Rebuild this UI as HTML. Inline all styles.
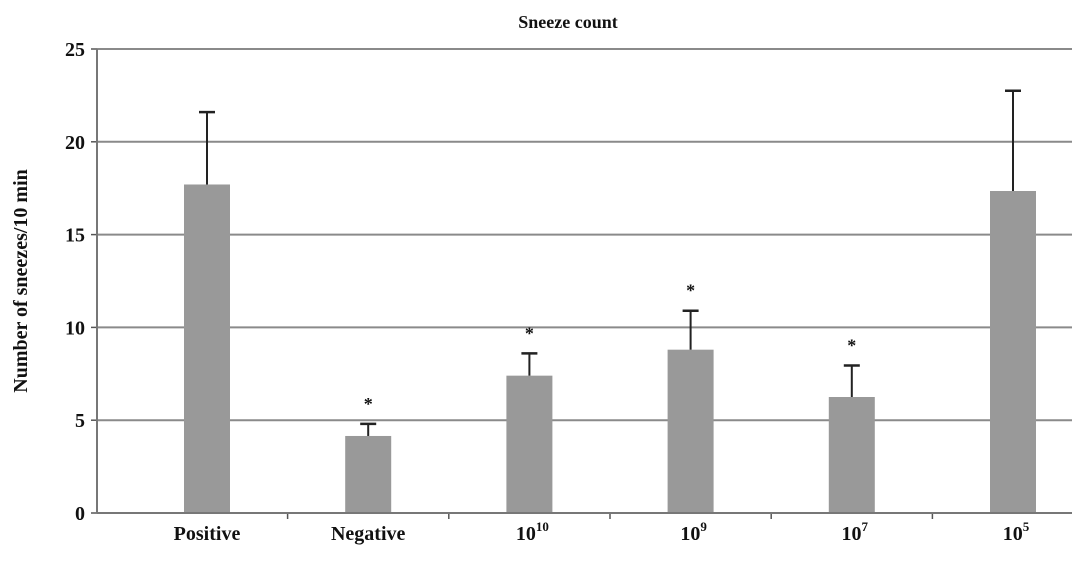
<!DOCTYPE html>
<html><head><meta charset="utf-8"><style>
body{margin:0;background:#fff;}
svg text{font-family:"Liberation Serif",serif;font-weight:bold;fill:#111;}
</style></head><body>
<svg id="chart" width="1087" height="561" viewBox="0 0 1087 561" xmlns="http://www.w3.org/2000/svg">
<text x="568" y="28" font-size="18" text-anchor="middle">Sneeze count</text>
<text transform="translate(27,281) rotate(-90)" font-size="20" text-anchor="middle">Number of sneezes/10 min</text>
<g id="grid"></g><g id="bars"></g><g id="axes"></g>
</svg>
<script>
const categories=["Positive","Negative","10|10","10|9","10|7","10|5"];
const means=[17.7,4.15,7.4,8.8,6.25,17.35];
const errors=[3.9,0.65,1.2,2.1,1.7,5.4];
const stars=[false,true,true,true,true,false];
const yTicks=[0,5,10,15,20,25];
const NS="http://www.w3.org/2000/svg";
const x0=97,x1=1072,y0=513,y1=49,yMax=25;
const first=207,step=161.2,bw=46;
const y=v=>y0-(v/yMax)*(y0-y1);
const xc=i=>first+i*step;
function mk(t,a,p){const e=document.createElementNS(NS,t);for(const k in a)e.setAttribute(k,a[k]);p.appendChild(e);return e;}
const grid=document.getElementById('grid'),bars=document.getElementById('bars'),axes=document.getElementById('axes');
yTicks.forEach(t=>{
  if(t>0){const l=mk('line',{x1:x0,x2:x1,y1:y(t),y2:y(t),stroke:'#8a8a8a','stroke-width':2},grid);
  
  }
  const tk=mk('line',{x1:x0-6,x2:x0,y1:y(t),y2:y(t),stroke:'#555','stroke-width':1.5},axes);
  
  
  const tx=mk('text',{x:x0-12,y:y(t)+7,'font-size':20,'text-anchor':'end'},axes);tx.textContent=t;
  
  
});
categories.forEach((c,i)=>{
  const cx=xc(i);
  const r=mk('rect',{x:cx-bw/2,y:y(means[i]),width:bw,height:y0-y(means[i]),fill:'#999'},bars);
  
  
  const top=y(means[i]+errors[i]);
  const e=mk('line',{x1:cx,x2:cx,y1:y(means[i]),y2:top,stroke:'#222','stroke-width':2},bars);
  
  
  const cap=mk('line',{x1:cx-8,x2:cx+8,y1:top,y2:top,stroke:'#222','stroke-width':2.5},bars);
  
  
  if(stars[i]){const s=mk('text',{x:cx,y:top-14,'font-size':18,'text-anchor':'middle'},bars);s.textContent='*';
    
    }
  const parts=c.split('|');
  const lb=mk('text',{x:cx+(parts.length>1?3:0),y:540,'font-size':20,'text-anchor':'middle'},axes);
  
  
  if(parts.length>1){const a=mk('tspan',{},lb);a.textContent=parts[0];const b=mk('tspan',{dy:-9,'font-size':13},lb);b.textContent=parts[1];}
  else lb.textContent=c;
  const tk=mk('line',{x1:cx+step/2,x2:cx+step/2,y1:y0,y2:y0+6,stroke:'#555','stroke-width':1.5},axes);
  
  
});
const ax=mk('line',{x1:x0,x2:x1,y1:y0,y2:y0,stroke:'#777','stroke-width':2},axes);


const ay=mk('line',{x1:x0,x2:x0,y1:y1,y2:y0,stroke:'#777','stroke-width':2},axes);


</script>
</body></html>
